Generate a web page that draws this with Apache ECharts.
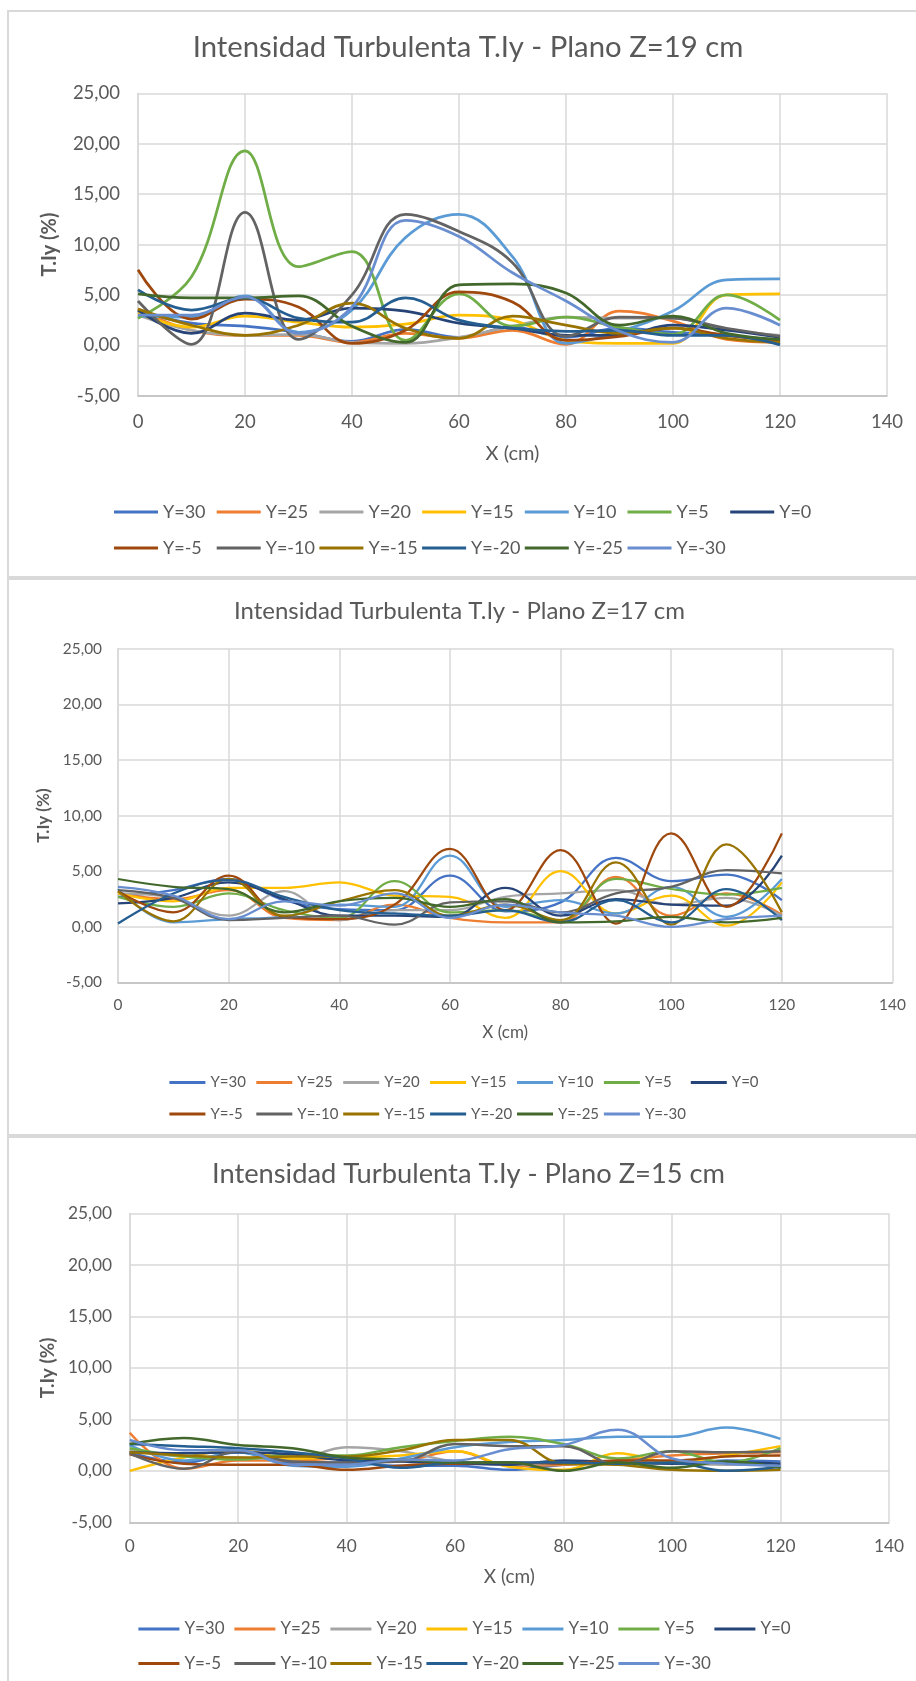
<!DOCTYPE html>
<html>
<head>
<meta charset="utf-8">
<script src="https://cdn.jsdelivr.net/npm/echarts@6/dist/echarts.min.js"></script>
<style>
  html, body { margin: 0; padding: 0; background: #ffffff; }
  #chart { width: 916px; height: 1681px; }
</style>
</head>
<body>
<div id="chart"></div>
<script>
// Measurement stations along the channel (cm)
const xStations = [0, 10, 20, 30, 40, 50, 60, 70, 80, 90, 100, 110, 120];

// Transverse positions, one curve each
const seriesNames = ['Y=30', 'Y=25', 'Y=20', 'Y=15', 'Y=10', 'Y=5', 'Y=0',
                     'Y=-5', 'Y=-10', 'Y=-15', 'Y=-20', 'Y=-25', 'Y=-30'];
const seriesColors = ['#4472C4', '#ED7D31', '#A5A5A5', '#FFC000', '#5B9BD5', '#70AD47', '#264478',
                      '#9E480E', '#636363', '#997300', '#255E91', '#43682B', '#698ED0'];

const planeTitles = [
  'Intensidad Turbulenta T.Iy - Plano Z=19 cm',
  'Intensidad Turbulenta T.Iy - Plano Z=17 cm',
  'Intensidad Turbulenta T.Iy - Plano Z=15 cm'
];

// T.Iy (%) per plane, rows in the order of seriesNames
const planeZ19 = [
  [3.4, 2.2, 1.9, 1.3, 0.4, 1.6, 0.8, 1.8, 0.8, 1.7, 1.3, 1.0, 0.3],
  [3.6, 1.5, 1.0, 1.0, 0.3, 1.2, 0.7, 1.5, 0.1, 3.4, 2.4, 0.6, 0.3],
  [3.0, 1.5, 1.0, 1.1, 0.3, 0.2, 0.8, 1.9, 2.8, 2.7, 2.7, 1.6, 1.0],
  [3.2, 1.8, 2.9, 2.3, 1.8, 2.1, 3.0, 2.5, 0.5, 0.2, 0.2, 5.0, 5.1],
  [2.9, 2.8, 4.9, 1.3, 3.5, 10.7, 13.0, 8.8, 0.2, 1.4, 3.4, 6.5, 6.6],
  [2.7, 6.8, 19.3, 7.8, 9.3, 0.5, 5.1, 1.9, 2.8, 1.8, 1.1, 5.0, 2.5],
  [3.5, 1.2, 3.2, 2.5, 3.7, 3.4, 2.2, 1.7, 1.0, 1.0, 2.0, 1.5, 0.8],
  [7.5, 2.6, 4.6, 3.8, 0.2, 1.5, 5.3, 4.3, 0.5, 0.9, 1.7, 1.0, 0.5],
  [4.4, 0.1, 13.2, 0.6, 5.0, 13.0, 11.3, 8.2, 0.9, 2.8, 2.7, 1.7, 0.9],
  [3.6, 2.0, 1.0, 2.0, 4.2, 1.7, 0.7, 2.9, 2.0, 1.2, 1.7, 0.7, 0.3],
  [5.5, 3.5, 4.7, 2.7, 2.3, 4.7, 2.5, 1.7, 1.4, 1.5, 1.0, 1.0, 0.05],
  [5.1, 4.7, 4.7, 4.9, 1.9, 0.3, 6.0, 6.1, 5.2, 2.0, 2.9, 1.2, 0.6],
  [3.0, 3.0, 4.8, 1.2, 3.8, 12.4, 10.8, 7.2, 4.4, 1.4, 0.3, 3.7, 2.0]
];

const planeZ17 = [
  [2.7, 3.3, 4.3, 2.4, 1.6, 1.5, 4.6, 1.4, 2.2, 6.2, 4.1, 4.7, 2.4],
  [3.0, 2.5, 3.3, 0.8, 0.6, 2.0, 0.8, 0.4, 0.4, 4.5, 1.0, 3.0, 1.1],
  [3.0, 2.6, 1.0, 3.2, 0.6, 1.5, 1.5, 2.7, 3.0, 3.3, 2.0, 2.6, 1.0],
  [3.0, 2.3, 3.5, 3.5, 4.0, 2.8, 2.7, 0.8, 5.0, 1.2, 2.8, 0.1, 4.0],
  [3.4, 0.4, 0.7, 0.9, 2.0, 1.8, 6.4, 1.8, 2.4, 1.2, 3.6, 0.9, 4.3],
  [2.7, 1.8, 3.0, 1.5, 0.8, 4.1, 1.3, 1.5, 0.6, 4.3, 3.4, 2.9, 3.5],
  [2.1, 2.6, 4.0, 2.5, 1.0, 1.0, 0.9, 3.5, 1.0, 2.5, 2.0, 1.9, 6.4],
  [3.2, 1.3, 4.6, 0.9, 0.7, 2.0, 7.0, 1.5, 6.9, 0.3, 8.4, 1.8, 8.4],
  [3.3, 2.6, 0.6, 0.8, 1.0, 0.2, 2.2, 2.3, 1.3, 3.0, 3.6, 5.1, 4.8],
  [3.2, 0.5, 4.3, 1.0, 2.3, 3.3, 1.0, 2.0, 0.6, 5.8, 0.2, 7.4, 1.3],
  [0.3, 3.0, 4.2, 2.7, 1.5, 1.2, 1.0, 1.5, 0.4, 2.4, 0.4, 3.4, 0.6],
  [4.3, 3.6, 3.4, 1.3, 2.3, 2.6, 1.8, 2.5, 0.4, 0.5, 0.9, 0.4, 0.8],
  [3.6, 2.8, 0.7, 2.3, 1.9, 3.0, 0.8, 2.0, 1.3, 1.0, 0.0, 0.7, 1.0]
];

const planeZ15 = [
  [1.8, 0.8, 1.8, 0.8, 0.8, 0.5, 0.5, 0.1, 0.6, 0.8, 0.7, 1.0, 0.9],
  [3.7, 0.2, 1.0, 1.0, 1.2, 1.0, 1.9, 0.5, 0.6, 1.0, 1.5, 1.7, 1.8],
  [2.0, 1.4, 1.3, 1.1, 2.3, 1.9, 0.9, 0.6, 0.7, 0.8, 0.7, 0.6, 0.6],
  [0.0, 1.3, 2.0, 1.2, 1.3, 1.5, 1.9, 0.4, 0.1, 1.7, 0.8, 1.5, 2.4],
  [2.5, 1.0, 1.8, 0.5, 0.4, 1.2, 2.3, 2.8, 3.0, 3.3, 3.3, 4.2, 3.1],
  [2.2, 1.4, 1.1, 1.6, 1.5, 2.3, 2.9, 3.3, 2.6, 1.2, 1.9, 0.8, 2.2],
  [1.8, 1.7, 1.8, 1.6, 1.0, 0.9, 0.7, 0.6, 1.0, 0.8, 0.7, 0.8, 0.7],
  [1.6, 0.7, 0.6, 0.6, 0.1, 0.5, 0.7, 0.8, 0.7, 1.0, 1.0, 1.4, 1.5],
  [1.7, 0.2, 1.9, 0.9, 0.8, 0.9, 2.6, 2.4, 2.4, 0.6, 1.9, 1.8, 1.9],
  [1.8, 1.5, 1.3, 1.4, 1.4, 2.0, 3.0, 3.0, 0.7, 0.6, 0.1, 0.0, 0.1],
  [2.6, 2.4, 2.2, 1.8, 1.2, 0.3, 0.8, 0.8, 0.8, 0.7, 0.8, 0.0, 0.4],
  [2.6, 3.2, 2.5, 2.2, 1.3, 1.1, 0.8, 0.8, 0.0, 0.8, 0.3, 0.9, 0.3],
  [3.0, 2.0, 2.0, 0.6, 0.6, 1.1, 1.0, 2.1, 2.5, 4.0, 1.2, 0.7, 0.5]
];

// Axis ranges
const xAxisRange = [0, 140];
const xAxisStep = 20;
const yAxisRange = [-5, 25];
const yAxisStep = 5;
const xAxisTitle = 'X (cm)';
const yAxisTitle = 'T.Iy (%)';

// Layout of the three stacked panels (pixels)
const panelLayout = [
  { data: planeZ19, grid: { left: 138, top: 93.3, width: 749, height: 302.5 },
    titleX: 468, titleY: 48, titleFs: 29.3, tickFs: 18.5, nameFs: 20, legendFs: 18,
    legendX: 114, legendRows: [512, 548], legendStep: 102.7, iconW: 44, lineW: 2.75,
    yLabelMargin: 18, xLabelMargin: 16.5, xNameGap: 48, yNameGap: 78 },
  { data: planeZ17, grid: { left: 118, top: 648.6, width: 774.5, height: 333.9 },
    titleX: 459.5, titleY: 611, titleFs: 24, tickFs: 15.4, nameFs: 17, legendFs: 15,
    legendX: 169.4, legendRows: [1082.5, 1114], legendStep: 86.9, iconW: 36, lineW: 2.25,
    yLabelMargin: 16, xLabelMargin: 14.7, xNameGap: 42, yNameGap: 66 },
  { data: planeZ15, grid: { left: 129.7, top: 1213.5, width: 759.3, height: 308.8 },
    titleX: 468.5, titleY: 1174, titleFs: 27.3, tickFs: 17.3, nameFs: 19, legendFs: 17,
    legendX: 138.4, legendRows: [1629, 1663.5], legendStep: 96, iconW: 41, lineW: 2.5,
    yLabelMargin: 17.7, xLabelMargin: 15.5, xNameGap: 45, yNameGap: 71 }
];

const FONT = 'Lato, "Open Sans", sans-serif';
const TEXT = '#595959';
const GRIDLINE = '#d9d9d9';

const fmtComma = v => v.toFixed(2).replace('.', ',');

const option = {
  animation: false,
  backgroundColor: '#ffffff',
  title: [], grid: [], xAxis: [], yAxis: [], legend: [], series: [],
  graphic: [
    // panel frames
    { type: 'rect', shape: { x: 7, y: 10, width: 912, height: 2 }, style: { fill: GRIDLINE }, silent: true },
    { type: 'rect', shape: { x: 7, y: 10, width: 2, height: 1675 }, style: { fill: GRIDLINE }, silent: true },
    { type: 'rect', shape: { x: 7, y: 576, width: 912, height: 4 }, style: { fill: GRIDLINE }, silent: true },
    { type: 'rect', shape: { x: 7, y: 1134, width: 912, height: 4 }, style: { fill: GRIDLINE }, silent: true }
  ]
};

panelLayout.forEach((p, pi) => {
  option.title.push({
    text: planeTitles[pi], left: p.titleX, top: p.titleY, padding: 0,
    textAlign: 'center', textVerticalAlign: 'middle',
    textStyle: { fontFamily: FONT, fontSize: p.titleFs, fontWeight: 'normal', color: TEXT }
  });
  option.grid.push(Object.assign({ containLabel: false }, p.grid));
  option.xAxis.push({
    type: 'value', gridIndex: pi, min: xAxisRange[0], max: xAxisRange[1], interval: xAxisStep,
    name: xAxisTitle, nameLocation: 'middle', nameGap: p.xNameGap,
    nameTextStyle: { fontFamily: FONT, fontSize: p.nameFs, color: TEXT },
    axisLine: { onZero: false, lineStyle: { color: '#bfbfbf', width: 1.5 } },
    axisTick: { show: false },
    axisLabel: { fontFamily: FONT, fontSize: p.tickFs, color: TEXT, margin: p.xLabelMargin },
    splitLine: { show: true, lineStyle: { color: GRIDLINE, width: 1.5 } }
  });
  option.yAxis.push({
    type: 'value', gridIndex: pi, min: yAxisRange[0], max: yAxisRange[1], interval: yAxisStep,
    name: yAxisTitle, nameLocation: 'middle', nameGap: p.yNameGap,
    nameTextStyle: { fontFamily: FONT, fontSize: p.nameFs, color: TEXT, fontWeight: 'bold' },
    axisLine: { show: true, lineStyle: { color: GRIDLINE, width: 1.5 } },
    axisTick: { show: false },
    axisLabel: { fontFamily: FONT, fontSize: p.tickFs, color: TEXT, margin: p.yLabelMargin, formatter: fmtComma },
    splitLine: { show: true, lineStyle: { color: GRIDLINE, width: 1.5 } }
  });

  seriesNames.forEach((name, si) => {
    option.series.push({
      type: 'line', name: name, xAxisIndex: pi, yAxisIndex: pi,
      data: xStations.map((x, k) => [x, p.data[si][k]]),
      smooth: 0.4, symbol: 'none', showSymbol: false,
      itemStyle: { color: seriesColors[si] },
      lineStyle: { color: seriesColors[si], width: p.lineW },
      z: 2 + si
    });
    const row = si < 7 ? 0 : 1;
    const col = si < 7 ? si : si - 7;
    option.legend.push({
      data: [{ name: name, icon: 'rect' }],
      left: p.legendX + col * p.legendStep,
      top: p.legendRows[row] - p.legendFs / 2,
      padding: 0, itemWidth: p.iconW, itemHeight: 3, selectedMode: false,
      textStyle: { fontFamily: FONT, fontSize: p.legendFs, color: TEXT }
    });
  });
});

const chart = echarts.init(document.getElementById('chart'), null, { renderer: 'canvas' });
chart.setOption(option);
</script>
</body>
</html>
